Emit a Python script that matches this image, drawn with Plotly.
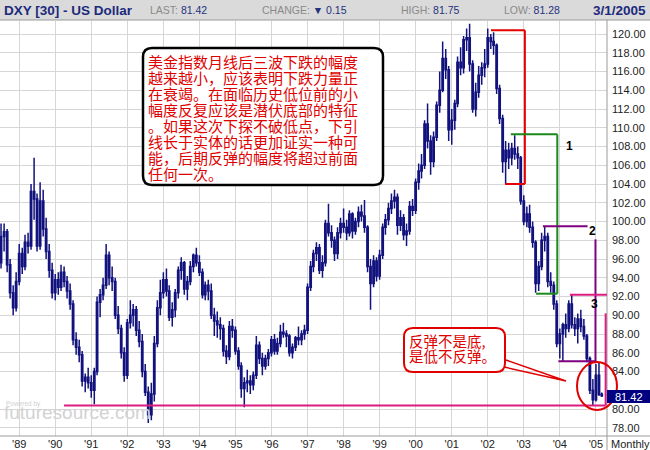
import datetime as dt
import pandas as pd
import plotly.graph_objects as go

# ---------------- data (monthly DXY, Jul 1988 - Mar 2005) ----------------
months = pd.date_range("1988-07-01", "2005-03-01", freq="MS")

opens = [
    95.6, 98.4, 98.9, 95.4, 92.4, 90.8,                                   # 1988
    93.6, 96.6, 95.2, 97.8, 97.4, 103.2, 102.4, 97.4, 102.2, 99.2, 96.8, 94.8,  # 1989
    92.4, 93.8, 93.0, 94.6, 93.6, 92.6, 91.2, 87.4, 86.6, 85.8, 83.0, 83.4,     # 1990
    82.8, 82.0, 84.0, 91.4, 92.2, 93.2, 96.4, 94.0, 93.6, 90.0, 88.6, 86.0,     # 1991
    83.6, 89.2, 90.0, 90.6, 88.4, 87.2, 84.0, 81.8, 79.4, 81.6, 87.0, 90.8,     # 1992
    92.4, 93.8, 92.6, 89.8, 90.6, 92.4, 94.8, 95.6, 92.8, 93.6, 95.2, 96.4,     # 1993
    95.6, 94.6, 92.2, 93.2, 92.6, 90.0, 89.4, 89.0, 88.6, 86.2, 85.6, 88.8,     # 1994
    88.4, 86.2, 84.6, 82.2, 82.8, 83.0, 82.6, 83.6, 86.8, 85.4, 84.6, 85.4,     # 1995
    86.0, 87.4, 86.2, 87.0, 88.2, 88.0, 87.8, 86.0, 86.6, 87.6, 87.4, 88.0,     # 1996
    88.4, 93.0, 95.2, 96.6, 97.2, 94.8, 95.6, 99.8, 98.8, 98.0, 96.6, 98.8,     # 1997
    99.8, 99.4, 98.8, 100.8, 99.0, 100.0, 101.0, 100.6, 99.4, 95.2, 93.4, 95.8, # 1998
    94.2, 96.4, 99.4, 100.2, 101.4, 102.2, 102.6, 99.6, 100.4, 98.6, 99.0, 101.6,  # 1999
    101.2, 104.2, 105.4, 106.0, 110.4, 108.6, 106.4, 109.0, 112.4, 114.0, 117.4, 116.2,  # 2000
    109.8, 110.8, 112.6, 117.0, 116.4, 119.4, 119.6, 116.8, 112.0, 113.8, 115.6, 116.4,  # 2001
    116.8, 119.6, 119.2, 118.8, 114.2, 111.0, 106.4, 107.6, 106.8, 107.8, 107.2, 106.8,  # 2002
    102.2, 100.0, 100.8, 99.4, 97.8, 93.4, 95.2, 98.0, 98.4, 93.6, 93.2, 91.2,  # 2003
    87.0, 88.0, 89.0, 88.6, 91.2, 89.0, 88.6, 89.6, 88.8, 87.8, 85.4, 82.0,     # 2004
    81.0, 83.6, 81.57,                                                     # 2005
]
highs = [
    99.8, 99.8, 99.2, 96.0, 93.2, 94.6,
    97.6, 97.2, 98.6, 98.8, 104.0, 106.8, 103.0, 104.2, 103.4, 100.4, 97.6, 95.6,
    94.4, 94.6, 95.4, 95.2, 94.2, 93.4, 91.6, 88.2, 87.4, 86.2, 83.8, 84.4,
    83.6, 84.4, 92.0, 92.8, 94.0, 97.6, 96.8, 95.2, 94.0, 91.0, 89.0, 86.6,
    89.6, 91.6, 91.2, 91.0, 89.4, 88.0, 84.8, 82.4, 82.8, 87.8, 91.6, 93.8,
    94.6, 95.0, 93.2, 91.4, 92.8, 95.2, 96.2, 95.8, 94.2, 95.8, 96.6, 97.2,
    96.4, 95.0, 93.6, 93.8, 93.4, 90.8, 90.4, 89.8, 89.0, 86.8, 89.4, 89.6,
    88.8, 86.6, 85.0, 83.4, 84.2, 83.6, 84.0, 87.8, 87.2, 86.0, 85.8, 86.4,
    87.8, 88.0, 87.6, 89.0, 89.2, 88.4, 88.0, 87.0, 87.8, 88.8, 88.4, 89.0,
    93.4, 95.8, 97.0, 97.8, 97.6, 96.4, 100.2, 101.9, 99.6, 98.4, 99.4, 100.4,
    101.4, 100.2, 101.2, 101.0, 100.4, 101.6, 101.8, 102.3, 99.6, 96.0, 96.4, 96.2,
    97.0, 99.8, 100.8, 102.0, 103.0, 103.4, 103.0, 101.2, 100.8, 99.8, 102.2, 102.4,
    104.6, 106.2, 107.2, 110.8, 112.6, 109.2, 109.6, 112.8, 116.0, 119.2, 118.4, 116.6,
    112.0, 113.0, 117.6, 118.6, 119.8, 120.6, 121.1, 117.2, 114.8, 116.6, 117.0, 118.4,
    120.6, 120.0, 120.2, 119.0, 114.6, 111.4, 108.6, 108.4, 108.4, 109.2, 108.0, 107.0,
    102.8, 101.6, 101.8, 100.0, 98.0, 95.8, 98.8, 99.5, 98.8, 94.6, 93.6, 91.6,
    88.6, 89.2, 90.2, 91.6, 92.2, 89.8, 90.2, 90.6, 89.6, 88.0, 85.6, 83.2,
    84.8, 85.0, 81.75,
]
lows = [
    95.0, 96.8, 94.6, 91.8, 90.0, 90.4,
    93.2, 94.4, 94.8, 96.6, 97.0, 100.2, 96.8, 97.0, 98.4, 96.0, 94.0, 91.8,
    91.6, 92.2, 92.6, 93.0, 91.8, 90.6, 86.8, 85.8, 85.0, 82.4, 81.8, 82.2,
    81.2, 80.5, 83.6, 89.8, 91.6, 92.8, 93.2, 92.6, 89.6, 88.0, 85.4, 82.9,
    83.2, 88.6, 88.8, 87.8, 86.6, 83.4, 81.4, 78.5, 78.8, 80.8, 86.6, 90.0,
    91.8, 92.0, 89.4, 88.8, 89.8, 91.8, 93.8, 92.2, 91.6, 93.2, 94.6, 95.2,
    94.2, 91.8, 91.6, 91.6, 89.6, 87.8, 87.6, 87.4, 85.6, 84.8, 85.2, 87.6,
    85.8, 84.2, 81.2, 80.2, 81.8, 81.6, 82.0, 83.2, 84.8, 83.6, 84.2, 84.6,
    85.6, 85.8, 85.8, 86.6, 87.6, 86.6, 85.6, 85.4, 86.2, 86.8, 86.8, 87.4,
    88.0, 92.6, 94.6, 95.8, 94.4, 94.0, 95.2, 98.4, 97.2, 95.8, 96.0, 98.2,
    98.8, 98.0, 98.4, 98.2, 98.6, 99.4, 100.0, 98.8, 94.6, 90.6, 93.0, 93.6,
    93.8, 96.0, 98.6, 99.6, 100.8, 101.4, 98.6, 99.0, 98.0, 97.4, 98.6, 100.6,
    100.8, 103.4, 104.6, 105.6, 107.8, 105.0, 105.8, 108.6, 111.6, 113.8, 115.2, 108.6,
    108.2, 109.8, 112.2, 115.6, 115.8, 118.2, 116.0, 111.6, 111.2, 113.2, 114.6, 115.4,
    116.4, 118.4, 117.8, 113.6, 110.4, 105.2, 104.0, 105.6, 106.0, 106.6, 105.6, 101.8,
    99.6, 99.4, 98.8, 97.2, 92.4, 92.6, 94.8, 96.8, 93.0, 92.4, 90.6, 86.6,
    85.4, 85.1, 87.6, 88.2, 88.6, 87.8, 87.0, 88.2, 87.4, 85.0, 81.6, 80.4,
    80.8, 81.4, 81.28,
]
closes = [
    98.4, 98.9, 95.4, 92.4, 90.8, 93.6,
    96.6, 95.2, 97.8, 97.4, 103.2, 102.4, 97.4, 102.2, 99.2, 96.8, 94.8, 92.4,
    93.8, 93.0, 94.6, 93.6, 92.6, 91.2, 87.4, 86.6, 85.8, 83.0, 83.4, 82.8,
    82.0, 84.0, 91.4, 92.2, 93.2, 96.4, 94.0, 93.6, 90.0, 88.6, 86.0, 83.6,
    89.2, 90.0, 90.6, 88.4, 87.2, 84.0, 81.8, 79.4, 81.6, 87.0, 90.8, 92.4,
    93.8, 92.6, 89.8, 90.6, 92.4, 94.8, 95.6, 92.8, 93.6, 95.2, 96.4, 95.6,
    94.6, 92.2, 93.2, 92.6, 90.0, 89.4, 89.0, 88.6, 86.2, 85.6, 88.8, 88.4,
    86.2, 84.6, 82.2, 82.8, 83.0, 82.6, 83.6, 86.8, 85.4, 84.6, 85.4, 86.0,
    87.4, 86.2, 87.0, 88.2, 88.0, 87.8, 86.0, 86.6, 87.6, 87.4, 88.0, 88.4,
    93.0, 95.2, 96.6, 97.2, 94.8, 95.6, 99.8, 98.8, 98.0, 96.6, 98.8, 99.8,
    99.4, 98.8, 100.8, 99.0, 100.0, 101.0, 100.6, 99.4, 95.2, 93.4, 95.8, 94.2,
    96.4, 99.4, 100.2, 101.4, 102.2, 102.6, 99.6, 100.4, 98.6, 99.0, 101.6, 101.2,
    104.2, 105.4, 106.0, 110.4, 108.6, 106.4, 109.0, 112.4, 114.0, 117.4, 116.2, 109.8,
    110.8, 112.6, 117.0, 116.4, 119.4, 119.6, 116.8, 112.0, 113.8, 115.6, 116.4, 116.8,
    119.6, 119.2, 118.8, 114.2, 111.0, 106.4, 107.6, 106.8, 107.8, 107.2, 106.8, 102.2,
    100.0, 100.8, 99.4, 97.8, 93.4, 95.2, 98.0, 98.4, 93.6, 93.2, 91.2, 87.0,
    88.0, 89.0, 88.6, 91.2, 89.0, 88.6, 89.6, 88.8, 87.8, 85.4, 82.0, 81.0,
    83.6, 81.57, 81.42,
]

year_ticks = list(range(1989, 2006))
year_labels = ["'%02d" % (y % 100) for y in year_ticks]
y_ticks = [v for v in range(78, 121, 2) if v != 82]

header_name = "DXY [30] - US Dollar"
last_val, change_val, high_val, low_val = "81.42", "0.15", "81.75", "81.28"
date_txt = "3/1/2005"

note_lines = [
    "美金指数月线后三波下跌的幅度",
    "越来越小，应该表明下跌力量正",
    "在衰竭。在面临历史低位前的小",
    "幅度反复应该是潜伏底部的特征",
    "。如果这次下探不破低点，下引",
    "线长于实体的话更加证实一种可",
    "能，后期反弹的幅度将超过前面",
    "任何一次。",
]
note2_lines = ["反弹不是底,", "是低不反弹。"]

# ---------------- geometry helpers ----------------
W, H = 650, 450
PL, PR, PT, PB = 0, 607, 21, 436


def fx(p):
    return (p - PL) / (PR - PL)


def fy(p):
    return (PB - p) / (PB - PT)


def yd(t):
    y = int(t)
    d = dt.datetime(y, 1, 1) + dt.timedelta(days=(t - y) * 365.25)
    return d.strftime("%Y-%m-%d %H:%M")


def rrect(x0, y0, x1, y1, r):
    X, Y = fx, fy
    return (f"M {X(x0+r)},{Y(y0)} L {X(x1-r)},{Y(y0)} Q {X(x1)},{Y(y0)} {X(x1)},{Y(y0+r)} "
            f"L {X(x1)},{Y(y1-r)} Q {X(x1)},{Y(y1)} {X(x1-r)},{Y(y1)} "
            f"L {X(x0+r)},{Y(y1)} Q {X(x0)},{Y(y1)} {X(x0)},{Y(y1-r)} "
            f"L {X(x0)},{Y(y0+r)} Q {X(x0)},{Y(y0)} {X(x0+r)},{Y(y0)} Z")


NAVY = "#12127e"
SANS = "Liberation Sans, Arial, sans-serif"
NARROW = "Liberation Sans Narrow, Liberation Sans, Arial, sans-serif"
CJK = "Noto Sans CJK SC, sans-serif"

fig = go.Figure(go.Candlestick(
    x=months, open=opens, high=highs, low=lows, close=closes,
    increasing=dict(line=dict(color=NAVY, width=1.5), fillcolor="white"),
    decreasing=dict(line=dict(color=NAVY, width=1.5), fillcolor=NAVY),
    hoverinfo="skip",
))

shapes = []
# header bar
shapes.append(dict(type="rect", xref="paper", yref="paper", x0=fx(0), x1=fx(650), y0=fy(20), y1=fy(0),
                   fillcolor="#dadada", line=dict(width=0), layer="above"))
shapes.append(dict(type="line", xref="paper", yref="paper", x0=fx(0), x1=fx(650), y0=fy(20), y1=fy(20),
                   line=dict(color="#9a9a9a", width=1), layer="above"))
# axis frame lines
shapes.append(dict(type="line", xref="paper", yref="paper", x0=fx(0), x1=fx(650), y0=fy(436), y1=fy(436),
                   line=dict(color="#9a9a9a", width=1), layer="above"))
shapes.append(dict(type="line", xref="paper", yref="paper", x0=fx(607), x1=fx(607), y0=fy(20), y1=fy(450),
                   line=dict(color="#9a9a9a", width=1), layer="above"))

# wave brackets (data coordinates)
def seg(t0, v0, t1, v1, color):
    return dict(type="line", xref="x", yref="y", x0=yd(t0), y0=v0, x1=yd(t1), y1=v1,
                line=dict(color=color, width=2), layer="above")

RED, GREEN, PURPLE, PINK = "#e60000", "#1a8a1a", "#800080", "#dc1c80"
shapes += [
    seg(2002.09, 120.4, 2003.03, 120.4, RED),
    seg(2003.03, 120.4, 2003.03, 104.0, RED),
    seg(2002.48, 104.0, 2003.03, 104.0, RED),
    seg(2002.64, 109.3, 2003.93, 109.3, GREEN),
    seg(2003.93, 109.3, 2003.93, 92.3, GREEN),
    seg(2003.34, 92.3, 2003.93, 92.3, GREEN),
    seg(2003.53, 99.5, 2004.77, 99.5, PURPLE),
    seg(2004.99, 98.1, 2004.99, 85.1, PURPLE),
    seg(2003.96, 85.1, 2005.01, 85.1, PURPLE),
    seg(2004.28, 92.2, 2005.31, 92.2, PINK),
    seg(2005.27, 90.2, 2005.27, 80.37, PINK),
    seg(1990.245, 80.37, 2005.27, 80.37, PINK),
]

# callout boxes
shapes.append(dict(type="path", xref="paper", yref="paper", path=rrect(143, 48, 383, 185, 9),
                   fillcolor="white", line=dict(color="black", width=2.5), layer="above"))
shapes.append(dict(type="path", xref="paper", yref="paper", path=rrect(404, 328, 505, 372, 9),
                   fillcolor="white", line=dict(color="#e00000", width=2), layer="above"))
# pointer wedge
shapes.append(dict(type="path", xref="paper", yref="paper",
                   path=f"M {fx(506)},{fy(360)} L {fx(566)},{fy(381)} L {fx(504)},{fy(367)}",
                   line=dict(color="#e00000", width=1.5), layer="above"))
# red circle
shapes.append(dict(type="circle", xref="paper", yref="paper", x0=fx(577), x1=fx(617), y0=fy(410), y1=fy(362),
                   line=dict(color="#e00000", width=2), layer="above"))
# last-price marker
shapes.append(dict(type="rect", xref="paper", yref="paper", x0=fx(607), x1=fx(650), y0=fy(403), y1=fy(390),
                   fillcolor="#000080", line=dict(width=0), layer="above"))

ann = []


def text(x, y, s, size, color, family=SANS, xanchor="left"):
    ann.append(dict(xref="paper", yref="paper", x=fx(x), y=fy(y), text=s, showarrow=False,
                    xanchor=xanchor, yanchor="middle", font=dict(family=family, size=size, color=color)))


VAL = "#24327e"
text(2, 10, f"<b>{header_name}</b>", 13.5, "#1c2a7c", NARROW)
text(148, 10, f"LAST: <span style='color:{VAL}'>{last_val}</span>", 10.5, "#8a8a8a")
text(260, 10, f"CHANGE: <span style='color:{VAL}'>▼ {change_val}</span>", 10.5, "#8a8a8a")
text(399, 10, f"HIGH: <span style='color:{VAL}'>{high_val}</span>", 10.5, "#8a8a8a")
text(502, 10, f"LOW: <span style='color:{VAL}'>{low_val}</span>", 10.5, "#8a8a8a")
text(648, 10, f"<b>{date_txt}</b>", 13.5, "#1c2a7c", NARROW, xanchor="right")

for i, line in enumerate(note_lines):
    text(146, 61.7 + 15.94 * i, line, 15, "#e00000", CJK)
for i, line in enumerate(note2_lines):
    text(407, 340.5 + 15 * i, line, 14.5, "#e00000", CJK)

text(569, 146, "<b>1</b>", 12, "black", xanchor="center")
text(592, 231, "<b>2</b>", 12, "black", xanchor="center")
text(594.5, 304, "<b>3</b>", 12, "black", xanchor="center")

text(628.5, 397, last_val, 11, "white", xanchor="center")
text(630, 444, "Monthly", 11, "#222", xanchor="center")
text(4, 404, "Powered by", 6.5, "#cfcfcf")
text(2, 412, "futuresource.com", 19, "#d2d2d2")

fig.update_layout(
    width=W, height=H,
    margin=dict(l=PL, r=W - PR, t=PT, b=H - PB),
    paper_bgcolor="white", plot_bgcolor="white",
    showlegend=False,
    shapes=shapes, annotations=ann,
    xaxis=dict(type="date", range=[yd(1988.4695), yd(2005.3075)],
               tickvals=[f"{y}-01-01" for y in year_ticks], ticktext=year_labels,
               showgrid=True, gridcolor="#d6d6d6", gridwidth=1, ticks="",
               tickfont=dict(family=SANS, size=11, color="#222"),
               zeroline=False, showline=False, rangeslider=dict(visible=False), fixedrange=True),
    yaxis=dict(side="right", range=[77.12, 121.39], tickvals=y_ticks,
               ticktext=["%.2f" % v for v in y_ticks],
               showgrid=True, gridcolor="#d6d6d6", gridwidth=1, ticks="",
               ticklabelstandoff=4,
               tickfont=dict(family=SANS, size=11, color="#222"),
               zeroline=False, showline=False, fixedrange=True),
)

fig.write_html("out.html", config={"displayModeBar": False},
               post_script="document.body.style.margin='0';document.body.style.overflow='hidden';")
